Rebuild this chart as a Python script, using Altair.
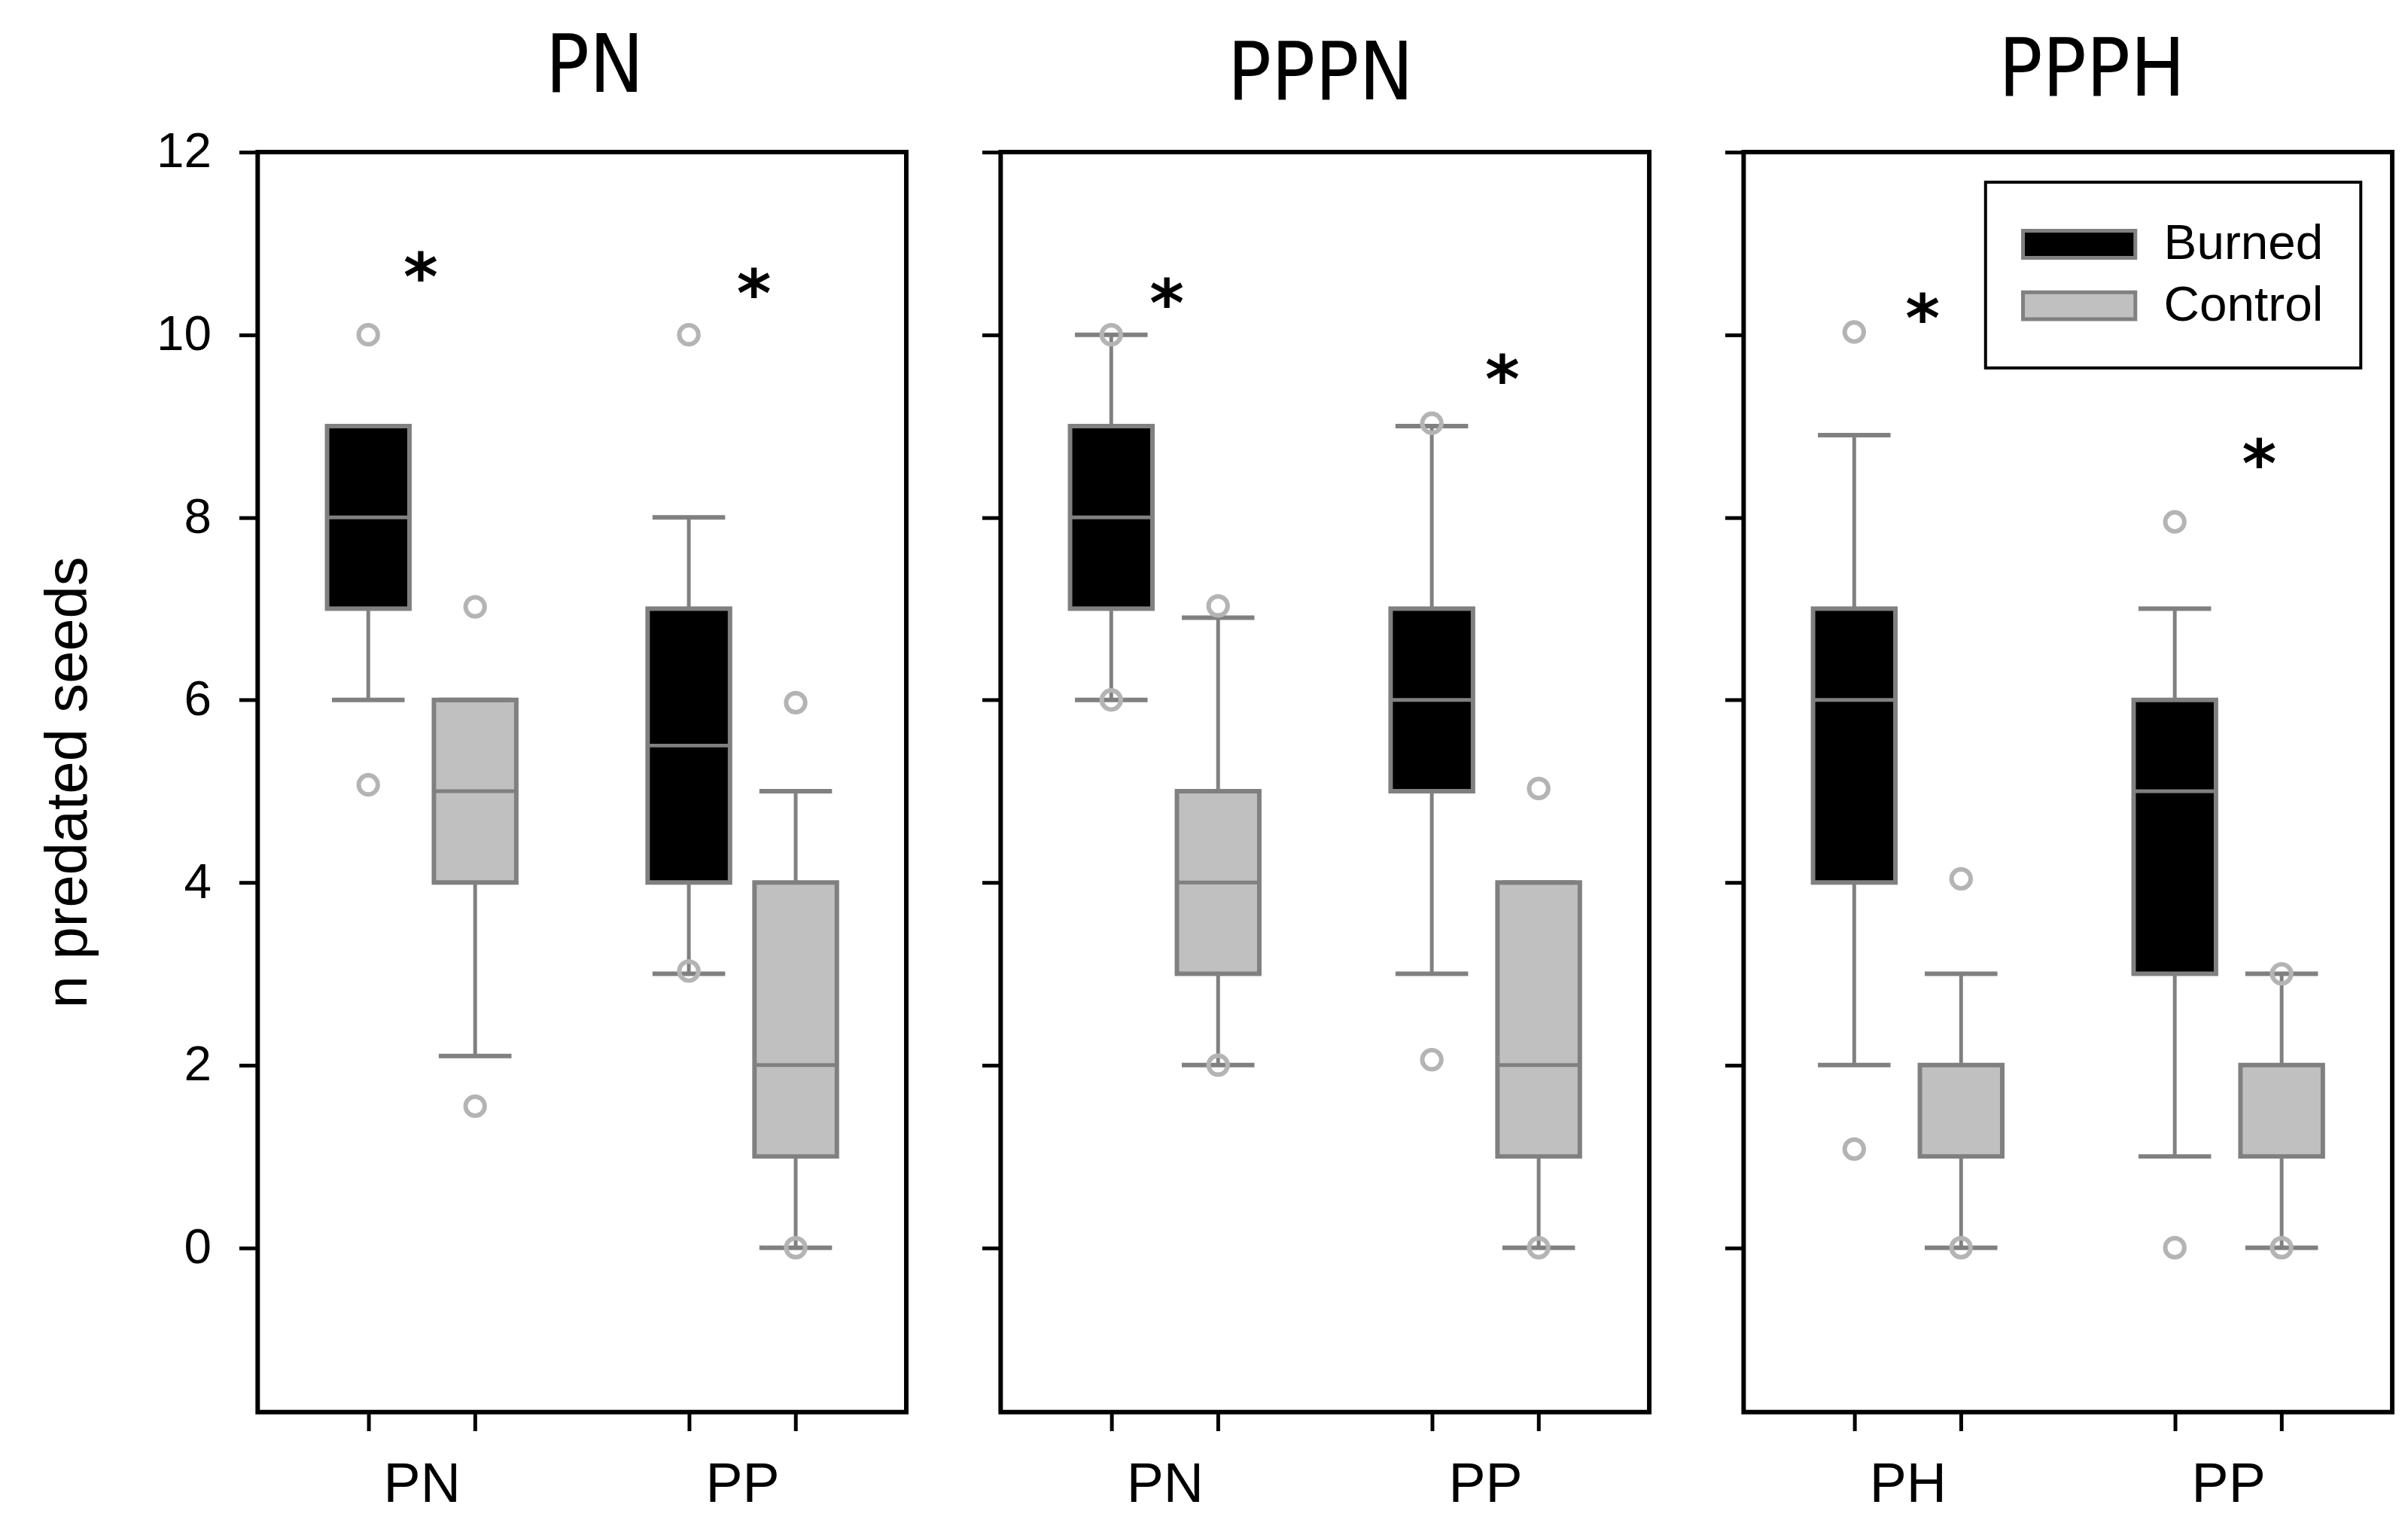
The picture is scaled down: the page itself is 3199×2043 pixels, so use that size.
import altair as alt
import pandas as pd

# ---------------- data ----------------
panels = ["PN", "PPPN", "PPPH"]
sites = [["PN", "PP"], ["PN", "PP"], ["PH", "PP"]]
treatments = ["Burned", "Control"]

# one entry per box: panel-major, then site, then treatment (Burned, Control)
q1 = [7, 4, 4, 1, 7, 3, 5, 1, 4, 1, 3, 1]
median = [8, 5, 5.5, 2, 8, 4, 6, 2, 6, 1, 5, 1]
q3 = [9, 6, 7, 4, 9, 5, 7, 4, 7, 2, 6, 2]
whisker_lo = [6, 2.1, 3, 0, 6, 2, 3, 0, 2, 0, 1, 0]
whisker_hi = [9, 6, 8, 5, 10, 6.9, 9, 4, 8.9, 3, 7, 3]
outliers = [[10, 5.07], [7.02, 1.55], [10, 3.03], [5.97, 0],
            [10, 6], [7.03, 2], [9.03, 2.06], [5.03, 0],
            [10.03, 1.08], [4.04, 0], [7.95, 0], [3, 0]]

# significance asterisks (x in slot units, y in seeds)
star_x = [[1.49, 4.61], [1.52, 4.66], [1.64, 4.79]]
star_y = [[10.76, 10.58], [10.47, 9.64], [10.31, 8.72]]

y_ticks = [0, 2, 4, 6, 8, 10, 12]
y_domain = [-1.8, 12]

# ---------------- styling ----------------
GRAY = "#808080"
LIGHT = "#b4b4b4"
TXT = "Liberation Sans"
TITLE_FONT = "Liberation Sans Narrow, DejaVu Sans Condensed, sans-serif"
W, H = 866, 1682

title_offsets = [-60, -40, -35]
title_dx = [17, -6, 32]


def panel_chart(pi):
    rows, orows = [], []
    for si, site in enumerate(sites[pi]):
        for ti, tr in enumerate(treatments):
            k = pi * 4 + si * 2 + ti
            pos = 3 * si + 1 + ti
            rows.append(dict(pos=pos, treatment=tr, q1=q1[k], med=median[k], q3=q3[k],
                             wlo=whisker_lo[k], whi=whisker_hi[k]))
            for v in outliers[k]:
                orows.append(dict(pos=pos, value=v))
    df = pd.DataFrame(rows)
    dfo = pd.DataFrame(orows)
    dfs = pd.DataFrame(dict(pos=star_x[pi], val=star_y[pi], txt=["*", "*"]))

    s0, s1 = sites[pi]
    xaxis = alt.Axis(
        values=[1, 1.5, 2, 4, 4.5, 5],
        labelExpr=f"datum.value == 1.5 ? '{s0}' : datum.value == 4.5 ? '{s1}' : ''",
        tickOpacity={"condition": {"test": "datum.value == 1.5 || datum.value == 4.5", "value": 0}, "value": 1},
        tickSize=25, tickWidth=5, tickColor="black",
        labelFontSize=74, labelFont=TXT, labelColor="black", labelPadding=36,
        labelOverlap=False, labelBound=False, labelFlush=False,
        grid=False, domain=False, title=None,
    )
    first = pi == 0
    yaxis = alt.Axis(
        values=y_ticks, format="d", labels=first,
        tickSize=25, tickWidth=5, tickColor="black",
        labelFontSize=66, labelFont=TXT, labelColor="black", labelPadding=37,
        grid=False, domain=False,
        title="n predated seeds" if first else None,
        titleFontSize=78, titleFont=TXT, titleFontWeight="normal", titleColor="black",
        titlePadding=78,
    )
    xs = alt.Scale(domain=[0, 6], nice=False, zero=False)
    ys = alt.Scale(domain=y_domain, nice=False, zero=False)

    def X(f="pos"):
        return alt.X(f"{f}:Q", scale=xs, axis=xaxis)

    def Y(f):
        return alt.Y(f"{f}:Q", scale=ys, axis=yaxis)

    if pi == 2:
        legend = alt.Legend(
            title=None, orient="none", legendX=323, legendY=40,
            padding=50, rowPadding=16,
            labelFontSize=66, labelFont=TXT, labelColor="black", labelLimit=400,
            labelOffset=122,
            symbolType="M-1.1,-0.6H3.9V0.6H-1.1Z", symbolSize=3600,
            symbolStrokeColor=GRAY, symbolStrokeWidth=5, symbolOpacity=1,
            strokeColor="black",
        )
    else:
        legend = None

    base = alt.Chart(df)
    wl = base.mark_rule(color=GRAY, strokeWidth=5).encode(x=X(), y=Y("wlo"), y2="q1:Q")
    wh = base.mark_rule(color=GRAY, strokeWidth=5).encode(x=X(), y=Y("q3"), y2="whi:Q")
    box = base.mark_bar(size=110, stroke=GRAY, strokeWidth=6, opacity=1).encode(
        x=X(), y=Y("q1"), y2="q3:Q",
        fill=alt.Fill("treatment:N",
                      scale=alt.Scale(domain=treatments, range=["#000000", "#c0c0c0"]),
                      legend=legend),
    )
    med = base.mark_tick(orient="horizontal", size=110, thickness=5, color=GRAY, opacity=1).encode(
        x=X(), y=Y("med"))
    cl = base.mark_tick(orient="horizontal", size=97, thickness=6, color=GRAY, opacity=1).encode(
        x=X(), y=Y("wlo"))
    ch = base.mark_tick(orient="horizontal", size=97, thickness=6, color=GRAY, opacity=1).encode(
        x=X(), y=Y("whi"))
    out = alt.Chart(dfo).mark_point(shape="circle", filled=False, size=650, strokeWidth=6,
                                    color=LIGHT, opacity=1).encode(x=X(), y=Y("value"))
    stars = alt.Chart(dfs).mark_text(font="DejaVu Sans", fontSize=88, fontWeight="bold",
                                     color="black", baseline="alphabetic", dy=46).encode(
        x=X(), y=Y("val"), text="txt:N")

    return alt.layer(wl, wh, box, med, cl, ch, out, stars).properties(
        width=W, height=H,
        title=alt.TitleParams(panels[pi], fontSize=108, font=TITLE_FONT, fontWeight="normal",
                              color="black", anchor="middle", baseline="alphabetic",
                              offset=title_offsets[pi], dx=title_dx[pi]),
    )


chart = alt.hconcat(*[panel_chart(i) for i in range(3)], spacing=92).resolve_scale(
    x="independent", y="independent", fill="independent"
).properties(
    padding={"left": 41, "top": 20, "right": 10, "bottom": 10},
    background="white",
).configure_view(stroke="black", strokeWidth=6).configure_legend(strokeWidth=4)

chart.save("out.html", embed_options={"renderer": "svg", "actions": False})
